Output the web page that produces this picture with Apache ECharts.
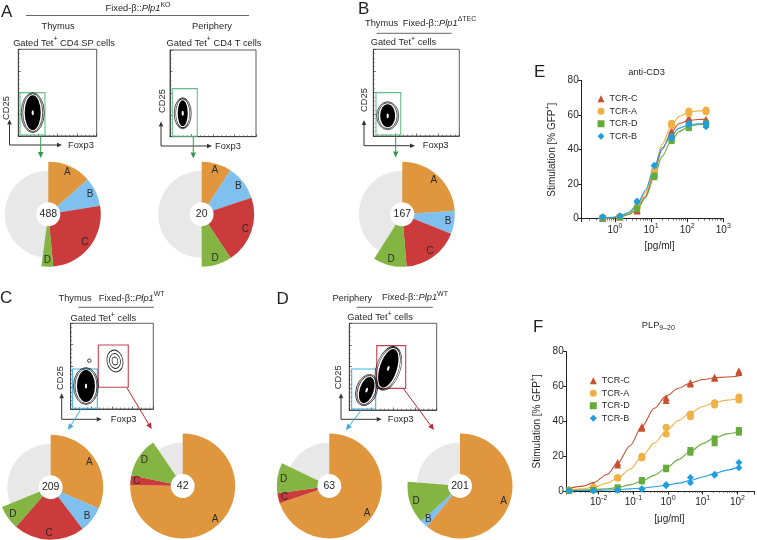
<!DOCTYPE html>
<html><head><meta charset="utf-8">
<script src="https://cdn.jsdelivr.net/npm/echarts@6/dist/echarts.min.js"></script>
<style>html,body{margin:0;padding:0;background:#fff}#c{width:757px;height:540px}</style>
</head><body><div id="c"></div>
<script>
// ================= DATA =================
const pieCategories = ['A', 'B', 'C', 'D', 'other'];
// % of Tet+ cells per TCR clone (A, B, C, D, other)
const pieThymusKO        = [13.5, 8.9, 26.1, 3.6, 47.9];
const piePeripheryKO     = [9.2, 10.7, 20.8, 9.3, 50.0];
const pieThymusDTEC      = [23.9, 7.1, 17.7, 10.3, 41.0];
const pieThymusWTconv    = [31.6, 8.0, 21.9, 7.4, 31.1];
const pieThymusWTtreg    = [75.3, 0, 3.0, 12.2, 9.5];
const piePeripheryWTconv = [69.7, 0, 3.1, 9.3, 17.9];
const piePeripheryWTtreg = [60.8, 2.5, 0, 13.0, 23.7];
const pieCellCounts      = [488, 20, 167, 209, 42, 63, 201];

// FACS population centres [Foxp3, CD25] (plot units 0-100)
const facsThymusKO    = [[18.4, 26.9]];
const facsPeripheryKO = [[14.8, 27.0]];
const facsThymusDTEC  = [[16.7, 23.4]];
const facsThymusWT    = [[18.5, 26.8], [53.6, 56.0], [22.5, 56.4]];
const facsPeripheryWT = [[19.9, 23.0], [44.6, 48.1]];
// gates [x0, y0, x1, y1]
const gateThymusKO     = [2.2, 1.2, 34, 50];
const gatePeripheryKO  = [2.7, 0.5, 31.7, 55.5];
const gateThymusDTEC   = [3.1, 1.2, 31.9, 50];
const gateThymusWTconv = [2.4, 0.8, 32.2, 46.7];
const gateThymusWTtreg = [33.4, 25.3, 69.7, 74.7];
const gatePeriphWTconv = [2.7, 1.2, 30.2, 47.3];
const gatePeriphWTtreg = [31.4, 25.0, 64.5, 74.2];

// Panel E: anti-CD3 [pg/ml]
const tcrNames = ['TCR-C', 'TCR-A', 'TCR-D', 'TCR-B'];
const eDoses = [0.46, 1.37, 4.1, 12.3, 37, 111, 333];
const eC_rep1 = [0.3, 1.0, 5.0, 27, 51, 57.6, 57.6];
const eC_rep2 = [0.5, 1.2, 4.5, 26, 49.5, 58.5, 56.5];
const eA_rep1 = [0.8, 1.2, 7.0, 28, 55.3, 62.4, 63.0];
const eA_rep2 = [0.6, 1.0, 6.5, 27, 54.0, 61.0, 62.0];
const eD_rep1 = [0.5, 1.0, 6.0, 24, 45.0, 53.3, 55.3];
const eD_rep2 = [0.3, 0.8, 5.5, 25, 46.0, 52.5, 54.5];
const eB_rep1 = [1.2, 1.7, 10.2, 30.5, 48.0, 55.3, 55.3];
const eB_rep2 = [0.8, 1.4, 9.5, 31.0, 46.5, 54.5, 53.3];
const eFitDoses = [0.46, 0.8, 1.37, 2.4, 4.1, 7, 12.3, 20, 37, 60, 111, 200, 333];
const eC_fit = [0.1, 0.4, 1.0, 2.4, 5.5, 13, 27, 40, 50.5, 55.2, 57.0, 57.5, 57.7];
const eA_fit = [0.2, 0.6, 1.3, 3.0, 7.0, 15, 29, 43, 54.0, 59.3, 61.7, 62.5, 62.8];
const eD_fit = [0.1, 0.4, 1.0, 2.4, 5.5, 12, 24.5, 36, 45.5, 50.5, 53.5, 54.5, 55.0];
const eB_fit = [0.3, 0.8, 1.5, 3.6, 8.0, 16.5, 30, 41, 48.5, 52.5, 54.5, 55.0, 55.2];

// Panel F: PLP9-20 [µg/ml]
const fDoses = [0.00141, 0.00704, 0.0352, 0.176, 0.88, 4.4, 22, 110];
const fC_rep1 = [1.1, 3.4, 16.3, 37, 53.6, 62.2, 64.7, 69.0];
const fC_rep2 = [0.8, 2.5, 15.0, 36, 52.0, 61.5, 65.5, 68.0];
const fA_rep1 = [0.5, 2.2, 7.7, 19, 32.7, 44.2, 50.7, 54.0];
const fA_rep2 = [0.4, 2.0, 7.3, 20, 36.6, 42.7, 49.4, 52.2];
const fD_rep1 = [0.2, 0.6, 2.1, 6.3, 13.4, 23.5, 30.2, 35.0];
const fD_rep2 = [0.1, 0.5, 1.8, 5.5, 12.5, 22.0, 27.4, 33.5];
const fB_rep1 = [0.1, 0.2, 0.6, 1.3, 3.8, 7.7, 9.6, 16.3];
const fB_rep2 = [0.1, 0.2, 0.4, 1.0, 3.0, 4.8, 9.0, 13.4];
const fFitDoses = [0.00141, 0.0035, 0.00704, 0.0176, 0.0352, 0.08, 0.176, 0.4, 0.88, 2, 4.4, 10, 22, 50, 110];
const fC_fit = [1.5, 2.8, 4.8, 9.5, 16, 26, 37, 47.5, 54.5, 59, 62, 64, 65, 65.5, 66];
const fA_fit = [0.5, 1.2, 2.2, 4.5, 7.5, 12.5, 19.5, 27.5, 34.5, 40.5, 45, 48.5, 50.8, 52.2, 53];
const fD_fit = [0.3, 0.5, 0.8, 1.3, 2.0, 3.5, 5.7, 9, 13.2, 18, 22.8, 27.2, 30.5, 32.8, 34];
const fB_fit = [0.2, 0.3, 0.4, 0.6, 0.8, 1.2, 1.7, 2.4, 3.3, 4.5, 6, 8, 10, 12, 14];

// ================= STYLE =================
const FONT = '"Liberation Sans", Arial, Helvetica, sans-serif';
const TXT = '#231f20';
const PIE_COL = {A: '#e0963c', B: '#80c0ee', C: '#cb3b3b', D: '#84b441'};
const PIE_BG = '#e8e8e8';
const TCR_COL = {'TCR-C': '#c8502e', 'TCR-A': '#f0b043', 'TCR-D': '#67ab3b', 'TCR-B': '#1f9ee0'};
const TCR_SYM = {'TCR-C': 'triangle', 'TCR-A': 'circle', 'TCR-D': 'rect', 'TCR-B': 'diamond'};
const GATE = {green: '#66c08a', blue: '#3db2e2', red: '#c4424f'};
const ARROW = {green: '#2f9a48', blue: '#3aa9df', red: '#c0272d', black: '#333'};

const chart = echarts.init(document.getElementById('c'), null, {renderer: 'canvas'});

const grids = [], xAxes = [], yAxes = [], series = [], graphic = [];

// ---------- FACS plots ----------
const facsPlots = [
  {box: [18.3, 49.3, 78.4, 86.7], blobs: [{c: facsThymusKO[0], w: 16, h: 35, rot: 0, kind: 'dense'}],
   gates: [[gateThymusKO, GATE.green]]},
  {box: [170, 50, 86, 86.7], blobs: [{c: facsPeripheryKO[0], w: 10, h: 26, rot: 0, kind: 'dense'}],
   gates: [[gatePeripheryKO, GATE.green]]},
  {box: [373.3, 49.3, 86, 86.7], blobs: [{c: facsThymusDTEC[0], w: 15, h: 23, rot: 0, kind: 'dense'}],
   gates: [[gateThymusDTEC, GATE.green]]},
  {box: [70.7, 323.3, 82.6, 85.7], blobs: [
      {c: facsThymusWT[0], w: 18, h: 32, rot: 0, kind: 'dense'},
      {c: facsThymusWT[1], w: 16, h: 22, rot: 10, kind: 'rings'},
      {c: facsThymusWT[2], w: 3.5, h: 3.5, rot: 0, kind: 'dot'}],
   gates: [[gateThymusWTconv, GATE.blue], [gateThymusWTtreg, GATE.red]]},
  {box: [349.3, 323.3, 87.4, 86.7], blobs: [
      {c: facsPeripheryWT[0], w: 14, h: 27, rot: -18, kind: 'dense'},
      {c: facsPeripheryWT[1], w: 17, h: 40, rot: -18, kind: 'dense'}],
   gates: [[gatePeriphWTconv, GATE.blue], [gatePeriphWTtreg, GATE.red]]}
];

facsPlots.forEach((p, i) => {
  grids.push({left: p.box[0], top: p.box[1], width: p.box[2], height: p.box[3],
    show: true, borderColor: '#333', borderWidth: 0.8, backgroundColor: 'rgba(0,0,0,0)'});
  const ax = {gridIndex: i, type: 'value', min: 0, max: 100, interval: 25,
    axisLine: {show: true, lineStyle: {color: '#333', width: 0.8}},
    axisTick: {show: true, inside: true, length: 2.5, lineStyle: {color: '#333', width: 0.7}},
    minorTick: {show: true, splitNumber: 5, length: 1.5, lineStyle: {color: '#555', width: 0.6}},
    axisLabel: {show: false}, splitLine: {show: false}};
  xAxes.push(Object.assign({}, ax));
  yAxes.push(Object.assign({}, ax));
  const items = [];
  p.blobs.forEach(b => {
    if (b.kind === 'dense') {
      [[7, 5], [4, 3]].forEach(([dw, dh]) => items.push({value: b.c, symbolSize: [b.w + dw, b.h + dh], symbolRotate: b.rot,
        itemStyle: {color: 'rgba(0,0,0,0)', borderColor: '#111', borderWidth: 0.7, opacity: 1}}));
      items.push({value: b.c, symbolSize: [b.w, b.h], symbolRotate: b.rot, itemStyle: {color: '#000', opacity: 1}});
      items.push({value: b.c, symbolSize: [2.2, 5], symbolRotate: b.rot, itemStyle: {color: '#fff', opacity: 1}});
    } else if (b.kind === 'rings') {
      [1, 0.68, 0.36].forEach(f => items.push({value: b.c, symbolSize: [b.w * f, b.h * f], symbolRotate: b.rot,
        itemStyle: {color: 'rgba(0,0,0,0)', borderColor: '#111', borderWidth: 0.8, opacity: 1}}));
    } else {
      items.push({value: b.c, symbolSize: [b.w, b.h], itemStyle: {color: 'rgba(0,0,0,0)', borderColor: '#111', borderWidth: 0.8, opacity: 1}});
    }
  });
  series.push({type: 'scatter', xAxisIndex: i, yAxisIndex: i, symbol: 'circle', silent: true, data: items, z: 3,
    itemStyle: {opacity: 1},
    markArea: {silent: true, label: {show: false},
      data: p.gates.map(([g, col]) => [
        {xAxis: g[0], yAxis: g[1], itemStyle: {color: 'rgba(0,0,0,0)', borderColor: col, borderWidth: 1.1}},
        {xAxis: g[2], yAxis: g[3]}])}});
});

// ---------- Dose-response panels ----------
function logLabel(v) {
  const e = Math.log10(v), r = Math.round(e);
  if (Math.abs(e - r) > 1e-6) return '';
  return '10{s|' + r + '}';
}
function doseAxes(gi, min, max, name, nameShift) {
  xAxes.push({gridIndex: gi, type: 'log', logBase: 10, min: min, max: max,
    axisLine: {show: true, lineStyle: {color: '#222', width: 1}},
    axisTick: {show: true, length: 3.5, lineStyle: {color: '#222'}},
    minorTick: {show: true, splitNumber: 9, length: 1.8, lineStyle: {color: '#333', width: 0.7}},
    splitLine: {show: false}, minorSplitLine: {show: false},
    axisLabel: {formatter: logLabel, fontSize: 10, fontFamily: FONT, color: TXT, margin: 4,
      rich: {s: {fontSize: 7, fontFamily: FONT, color: TXT, padding: [0, 0, 8, 0]}}},
    name: name, nameLocation: 'middle', nameGap: 23,
    nameTextStyle: {fontSize: 10, fontFamily: FONT, color: TXT, padding: [0, 0, 0, nameShift]}});
  yAxes.push({gridIndex: gi, type: 'value', min: 0, max: 80, interval: 20,
    axisLine: {show: true, lineStyle: {color: '#222', width: 1}},
    axisTick: {show: true, length: 3.5, lineStyle: {color: '#222'}},
    splitLine: {show: false},
    axisLabel: {fontSize: 10, fontFamily: FONT, color: TXT, margin: 3},
    name: 'Stimulation [% GFP{s|+}]', nameLocation: 'middle', nameRotate: 90, nameGap: 22,
    nameTextStyle: {fontSize: 10, fontFamily: FONT, color: TXT,
      rich: {s: {fontSize: 7, fontFamily: FONT, color: TXT, padding: [0, 0, 8, 0]}}}});
}
function doseSeries(gi, doses, reps, fitDoses, fits) {
  tcrNames.forEach((n, k) => {
    series.push({type: 'line', name: n + ' fit', xAxisIndex: gi, yAxisIndex: gi, smooth: 0.3, smoothMonotone: 'x',
      showSymbol: false, silent: true, z: 2,
      lineStyle: {color: TCR_COL[n], width: 1.1},
      data: fitDoses.map((d, j) => [d, fits[k][j]])});
  });
  tcrNames.forEach((n, k) => {
    const pts = [];
    doses.forEach((d, j) => { reps[k].forEach(r => pts.push([d, r[j]])); });
    series.push({type: 'scatter', name: n, xAxisIndex: gi, yAxisIndex: gi, symbol: TCR_SYM[n],
      symbolSize: TCR_SYM[n] === 'rect' ? 6 : 7, silent: true, z: 3,
      itemStyle: {color: TCR_COL[n], opacity: 1}, data: pts});
  });
}

grids.push({left: 581.7, top: 80.7, width: 141.6, height: 138});
doseAxes(5, 0.12, 1000, '[pg/ml]', 14);
grids.push({left: 566.7, top: 351.7, width: 190.3, height: 139.3});
doseAxes(6, 0.0012, 300, '[μg/ml]', 18);

doseSeries(5, eDoses,
  [[eC_rep1, eC_rep2], [eA_rep1, eA_rep2], [eD_rep1, eD_rep2], [eB_rep1, eB_rep2]],
  eFitDoses, [eC_fit, eA_fit, eD_fit, eB_fit]);
doseSeries(6, fDoses,
  [[fC_rep1, fC_rep2], [fA_rep1, fA_rep2], [fD_rep1, fD_rep2], [fB_rep1, fB_rep2]],
  fFitDoses, [fC_fit, fA_fit, fD_fit, fB_fit]);

const legendBase = {orient: 'vertical', itemWidth: 7, itemHeight: 7, itemGap: 1, selectedMode: false,
  data: tcrNames, textStyle: {fontSize: 9, fontFamily: FONT, color: TXT, lineHeight: 11.5}};
const legends = [
  Object.assign({}, legendBase, {left: 592.5, top: 88}),
  Object.assign({}, legendBase, {left: 584.8, top: 370})
];

// ---------- Pies ----------
const pies = [
  {vals: pieThymusKO, c: [48.3, 214.3]},
  {vals: piePeripheryKO, c: [201.7, 214.3]},
  {vals: pieThymusDTEC, c: [402.3, 214.3]},
  {vals: pieThymusWTconv, c: [50.7, 487.3]},
  {vals: pieThymusWTtreg, c: [182.7, 486]},
  {vals: piePeripheryWTconv, c: [329.3, 486]},
  {vals: piePeripheryWTtreg, c: [460, 486]}
];
pies.forEach((p, i) => {
  const base = {type: 'pie', center: p.c, silent: true, startAngle: 90, clockwise: true,
    avoidLabelOverlap: false, labelLine: {show: false}, emphasis: {disabled: true}};
  series.push(Object.assign({}, base, {radius: [12, 43.5], z: 1,
    data: [{value: 1, name: 'bg' + i}], itemStyle: {color: PIE_BG},
    label: {show: true, position: 'center', formatter: String(pieCellCounts[i]), fontSize: 10.5, fontFamily: FONT, color: TXT}}));
  const items = pieCategories.map((cat, k) => ({name: cat, value: p.vals[k]})).filter(d => d.value > 0);
  series.push(Object.assign({}, base, {radius: [12, 52.5], z: 2, label: {show: false},
    data: items.map(d => ({name: d.name, value: d.value,
      itemStyle: {color: d.name === 'other' ? 'rgba(0,0,0,0)' : PIE_COL[d.name]}}))}));
  series.push(Object.assign({}, base, {radius: [34, 52.5], z: 3,
    data: items.map(d => ({name: d.name, value: d.value, itemStyle: {color: 'rgba(0,0,0,0)'},
      label: {show: d.name !== 'other', position: 'inside', formatter: '{b}', fontSize: 10, fontFamily: FONT, color: '#2b2b2b'}}))}));
});

// ---------- Annotations ----------
function rich(size) {
  return {
    i: {fontStyle: 'italic', fontSize: size, fontFamily: FONT, fill: TXT},
    sup: {fontSize: size * 0.75, fontFamily: FONT, fill: TXT, padding: [0, 0, size * 0.75, 0]},
    sub: {fontSize: size * 0.75, fontFamily: FONT, fill: TXT, padding: [size * 0.7, 0, 0, 0]}
  };
}
function T(x, y, text, size, align, rot) {
  const el = {type: 'text', x: x, y: y, silent: true, z: 10,
    style: {text: text, fill: TXT, fontSize: size, fontFamily: FONT, align: align || 'center', verticalAlign: 'middle', rich: rich(size)}};
  if (rot) el.rotation = rot;
  return el;
}
function L(x1, y1, x2, y2, col, w) {
  return {type: 'line', silent: true, z: 10, shape: {x1: x1, y1: y1, x2: x2, y2: y2}, style: {stroke: col || '#777', lineWidth: w || 1}};
}
function A(x1, y1, x2, y2, col, head) {
  head = head || 5.5;
  const ang = Math.atan2(y2 - y1, x2 - x1);
  const hx = x2 - head * Math.cos(ang), hy = y2 - head * Math.sin(ang);
  const px = -Math.sin(ang) * head * 0.45, py = Math.cos(ang) * head * 0.45;
  return [L(x1, y1, hx, hy, col, 1),
    {type: 'polygon', silent: true, z: 10, shape: {points: [[x2, y2], [hx + px, hy + py], [hx - px, hy - py]]}, style: {fill: col}}];
}
function axesArrows(x, yb, ytop, xright) {
  return [].concat(A(x, yb, x, ytop, ARROW.black, 5), A(x, yb, xright, yb, ARROW.black, 5));
}
const V = Math.PI / 2;
const LET = 17, SM = 9.3;

graphic.push(
  // Panel A
  T(1, 12, 'A', LET, 'left'),
  T(138, 8.5, 'Fixed-β::{i|Plp1}{sup|KO}', SM),
  L(26, 15.5, 249, 15.5, '#666', 1),
  T(58, 26, 'Thymus', SM), T(212, 26, 'Periphery', SM),
  T(64, 43, 'Gated Tet{sup|+} CD4 SP cells', SM),
  T(214, 43, 'Gated Tet{sup|+} CD4 T cells', SM),
  T(6.7, 108, 'CD25', SM, 'center', V), T(68, 145, 'Foxp3', SM, 'left'),
  T(162.3, 101, 'CD25', SM, 'center', V), T(215, 146, 'Foxp3', SM, 'left'),
  // Panel B
  T(358, 9.5, 'B', LET, 'left'),
  T(365, 23.3, 'Thymus', SM, 'left'),
  T(402.7, 23, 'Fixed-β::{i|Plp1}{sup|ΔTEC}', SM, 'left'),
  L(376.7, 33.3, 451.7, 33.3, '#666', 1),
  T(370.7, 42.7, 'Gated Tet{sup|+} cells', SM, 'left'),
  T(364, 100, 'CD25', SM, 'center', V), T(422.7, 145.7, 'Foxp3', SM, 'left'),
  // Panel C
  T(0, 298.5, 'C', LET, 'left'),
  T(75, 298.3, 'Thymus', SM), T(131.7, 298, 'Fixed-β::{i|Plp1}{sup|WT}', SM),
  L(78.3, 307.3, 154, 307.3, '#666', 1),
  T(103.3, 318.3, 'Gated Tet{sup|+} cells', SM),
  T(60.7, 378, 'CD25', SM, 'center', V), T(110.7, 419.3, 'Foxp3', SM, 'left'),
  // Panel D
  T(276.5, 299, 'D', LET, 'left'),
  T(352.3, 298.3, 'Periphery', SM), T(415, 297.5, 'Fixed-β::{i|Plp1}{sup|WT}', SM),
  L(356.7, 307.3, 432.7, 307.3, '#666', 1),
  T(380, 317.3, 'Gated Tet{sup|+} cells', SM),
  T(338.3, 377.3, 'CD25', SM, 'center', V), T(387.7, 419.3, 'Foxp3', SM, 'left'),
  // Panels E, F
  T(534, 72, 'E', LET, 'left'), T(646.5, 72, 'anti-CD3', SM),
  T(533, 327.5, 'F', LET, 'left'), T(658.3, 325, 'PLP{sub|9–20}', SM)
);
[].concat(
  axesArrows(9.5, 145, 119.5, 62), A(40.7, 136.5, 40.7, 158, ARROW.green, 6),
  axesArrows(161, 146, 121.5, 212), A(193.3, 137, 193.3, 158.5, ARROW.green, 6),
  axesArrows(364, 145.7, 120, 415), A(395.7, 136.5, 395.7, 157.5, ARROW.green, 6),
  axesArrows(61.7, 419.3, 393.3, 101.7),
  A(81, 409, 68, 430, ARROW.blue, 6), A(126.7, 387.5, 151.7, 429, ARROW.red, 6),
  axesArrows(341, 419.3, 393.3, 381.7),
  A(361.7, 409.5, 346, 430, ARROW.blue, 6), A(403.3, 388.5, 434, 430, ARROW.red, 6)
).forEach(e => graphic.push(e));

chart.setOption({
  animation: false,
  backgroundColor: '#fff',
  textStyle: {fontFamily: FONT},
  grid: grids, xAxis: xAxes, yAxis: yAxes,
  legend: legends,
  series: series,
  graphic: graphic
});
</script></body></html>
